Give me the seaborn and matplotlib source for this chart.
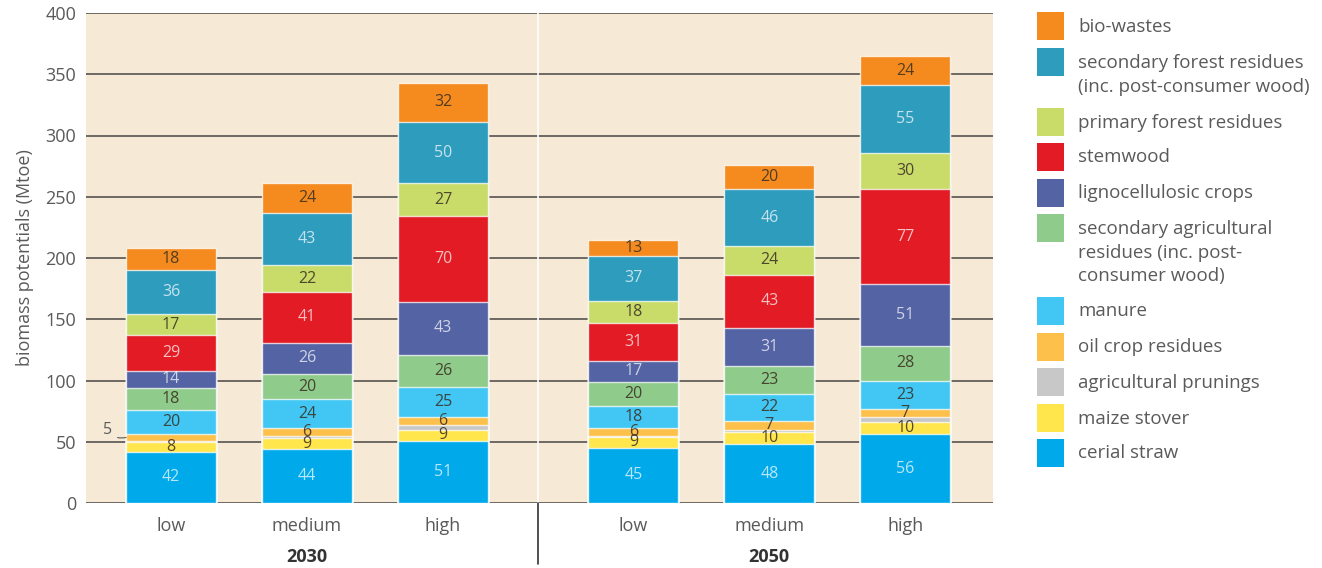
import numpy as np
import pandas as pd
import matplotlib
matplotlib.use("Agg")
import matplotlib.pyplot as plt
from matplotlib.patches import Rectangle
import seaborn as sns

# ---- data (Mtoe) ----
scenarios = ["low", "medium", "high", "low", "medium", "high"]
years = ["2030", "2050"]
positions = [0.0, 1.0, 2.0, 3.4, 4.4, 5.4]

# stacking order: bottom -> top
sources = [
    "cerial straw",
    "maize stover",
    "agricultural prunings",
    "oil crop residues",
    "manure",
    "secondary agricultural residues (inc. post-consumer wood)",
    "lignocellulosic crops",
    "stemwood",
    "primary forest residues",
    "secondary forest residues (inc. post-consumer wood)",
    "bio-wastes",
]
cerial_straw = [42, 44, 51, 45, 48, 56]
maize_stover = [8, 9, 9, 9, 10, 10]
agricultural_prunings = [1, 2, 4, 1, 2, 4]
oil_crop_residues = [5, 6, 6, 6, 7, 7]
manure = [20, 24, 25, 18, 22, 23]
secondary_agricultural = [18, 20, 26, 20, 23, 28]
lignocellulosic_crops = [14, 26, 43, 17, 31, 51]
stemwood = [29, 41, 70, 31, 43, 77]
primary_forest = [17, 22, 27, 18, 24, 30]
secondary_forest = [36, 43, 50, 37, 46, 55]
bio_wastes = [18, 24, 32, 13, 20, 24]

values = [cerial_straw, maize_stover, agricultural_prunings, oil_crop_residues,
          manure, secondary_agricultural, lignocellulosic_crops, stemwood,
          primary_forest, secondary_forest, bio_wastes]

colors = ["#00aaea", "#ffe64d", "#c8c8c8", "#fdc04a", "#42c6f3", "#8fcb8a",
          "#5363a4", "#e21b24", "#c9dc6a", "#2e9cbd", "#f58b1f"]
light_text = {"cerial straw", "lignocellulosic crops", "stemwood",
              "secondary forest residues (inc. post-consumer wood)"}

legend_labels = {
    "bio-wastes": ["bio-wastes"],
    "secondary forest residues (inc. post-consumer wood)":
        ["secondary forest residues", "(inc. post-consumer wood)"],
    "primary forest residues": ["primary forest residues"],
    "stemwood": ["stemwood"],
    "lignocellulosic crops": ["lignocellulosic crops"],
    "secondary agricultural residues (inc. post-consumer wood)":
        ["secondary agricultural", "residues (inc. post-", "consumer wood)"],
    "manure": ["manure"],
    "oil crop residues": ["oil crop residues"],
    "agricultural prunings": ["agricultural prunings"],
    "maize stover": ["maize stover"],
    "cerial straw": ["cerial straw"],
}

rows = []
for src, vals in zip(sources, values):
    for p, v in zip(positions, vals):
        rows.append({"source": src, "pos": p, "value": v})
df = pd.DataFrame(rows)
df["cum"] = df.groupby("pos")["value"].cumsum()
df["bottom"] = df["cum"] - df["value"]

# ---- figure ----
W, H = 1322, 568
sns.set_theme(style="white")
plt.rcParams["font.family"] = ["Open Sans", "DejaVu Sans"]
fig = plt.figure(figsize=(W / 100, H / 100), dpi=100)
ax = fig.add_axes([86 / W, 1 - 503 / H, (993 - 86) / W, (503 - 13) / H])
ax.set_facecolor("#f6e9d5")

grey = "#5a5a5a"
bar_w = 0.66
fs = 13

# stacked bars: draw cumulative totals from the top layer down
for src, col in reversed(list(zip(sources, colors))):
    sub = df[df["source"] == src]
    sns.barplot(data=sub, x="pos", y="cum", native_scale=True, color=col,
                width=bar_w, errorbar=None, saturation=1,
                edgecolor=(1, 1, 1, 0.75), linewidth=1.0, ax=ax, zorder=3)

# value labels
for src in sources:
    if src == "agricultural prunings":
        continue
    sub = df[df["source"] == src]
    tc = (1, 1, 1, 0.72) if src in light_text else (0.22, 0.18, 0.13, 0.85)
    for _, r in sub.iterrows():
        if src == "oil crop residues" and r["pos"] == positions[0]:
            continue
        ax.text(r["pos"], r["bottom"] + r["value"] / 2, f"{int(r['value'])}",
                ha="center", va="center", fontsize=11.5, color=tc, zorder=5)

# small segment labelled outside the first bar
first = df[(df["source"] == "oil crop residues") & (df["pos"] == positions[0])].iloc[0]
ax.annotate(f"{int(first['value'])}",
            xy=(positions[0] - bar_w / 2, first["bottom"] + first["value"] / 2),
            xytext=(positions[0] - 0.47, first["cum"] + 4),
            ha="center", va="center", fontsize=11.5, color=grey,
            arrowprops=dict(arrowstyle="-", color=grey, lw=0.8,
                            connectionstyle="arc3,rad=0.35",
                            shrinkA=2, shrinkB=0),
            zorder=5, annotation_clip=False)

# axes styling
ax.set_xlim(-0.625, 6.045)
ax.set_ylim(0, 400)
ax.set_yticks(np.arange(0, 401, 50))
ax.yaxis.grid(True, color="#6e6862", linewidth=1.4, zorder=1)
ax.set_axisbelow(True)
for s in ax.spines.values():
    s.set_visible(False)
ax.tick_params(axis="y", length=0, pad=7, labelsize=fs, labelcolor=grey)
ax.set_xticks(positions)
ax.set_xticklabels(scenarios)
ax.tick_params(axis="x", length=0, pad=10, labelsize=fs, labelcolor=grey)
ax.set_xlabel("")
ax.set_ylabel("biomass potentials (Mtoe)", fontsize=fs, color=grey, labelpad=8)

# separator between the two years
mid = (positions[2] + positions[3]) / 2
ax.axvline(mid, color="white", linewidth=1.2, zorder=2)
ax.plot([mid, mid], [0, -0.125], transform=ax.get_xaxis_transform(),
        color="#333333", linewidth=1.2, clip_on=False)

# year labels
for yr, p in zip(years, [positions[1], positions[4]]):
    ax.text(p, -0.11, yr, transform=ax.get_xaxis_transform(), ha="center",
            va="center", fontsize=fs, fontweight="bold", color="#333333")

# legend
box_tops = {"bio-wastes": 12,
            "secondary forest residues (inc. post-consumer wood)": 48,
            "primary forest residues": 108, "stemwood": 143,
            "lignocellulosic crops": 179,
            "secondary agricultural residues (inc. post-consumer wood)": 214,
            "manure": 297, "oil crop residues": 333,
            "agricultural prunings": 368, "maize stover": 404,
            "cerial straw": 439}
for src, col in zip(sources, colors):
    top = box_tops[src]
    fig.add_artist(Rectangle((1037 / W, 1 - (top + 28) / H), 27 / W, 28 / H,
                             transform=fig.transFigure, facecolor=col,
                             edgecolor="none"))
    yc = top + 14.5
    for i, line in enumerate(legend_labels[src]):
        fig.text(1078 / W, 1 - (yc + 24 * i) / H, line, ha="left",
                 va="center", fontsize=13.5, color=grey)

fig.savefig("out.png", dpi=100, facecolor="white")
